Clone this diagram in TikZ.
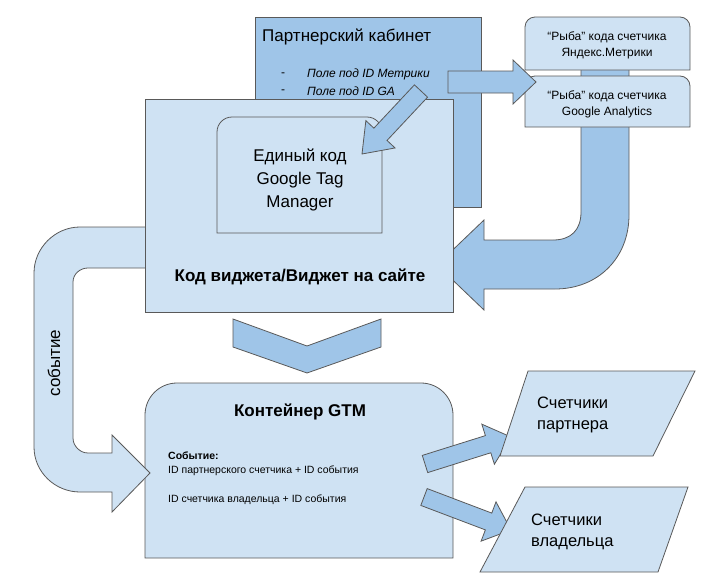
\documentclass[tikz,border=0pt]{standalone}
\usepackage{fontspec}
\setmainfont{Liberation Sans}
\usetikzlibrary{calc}

\definecolor{paleblue}{HTML}{CFE2F3}
\definecolor{midblue}{HTML}{9FC5E8}
\definecolor{outline}{HTML}{595959}

\begin{document}
\begin{tikzpicture}[x=1pt, y=-1pt,
    box/.style={draw=outline, fill=paleblue, line width=0.8pt, line join=miter},
    darkbox/.style={draw=outline, fill=midblue, line width=0.8pt, line join=miter},
    darkarrow/.style={draw=outline, fill=midblue, line width=0.8pt, line join=miter},
    palearrow/.style={draw=outline, fill=paleblue, line width=0.8pt, line join=miter},
    bigtxt/.style={font=\fontsize{17}{23}\selectfont, align=center, inner sep=0pt},
    boldtxt/.style={font=\fontsize{17}{20}\selectfont\bfseries, inner sep=0pt},
    smalltxt/.style={font=\fontsize{12}{16}\selectfont, align=center, inner sep=0pt},
    tinytxt/.style={font=\fontsize{10.5}{14}\selectfont, inner sep=0pt}]
  % \flatarrow{tail}{tip}{half body}{half head}{head length}: a straight block arrow
  \newcommand{\flatarrow}[5]{%
    \coordinate (fa-h) at ($#2!#5!#1$);
    \draw[darkarrow] ($#1!#3!90:#2$) -- ($(fa-h)!#3!90:#2$) -- ($(fa-h)!#4!90:#2$) -- #2
      -- ($(fa-h)!#4!-90:#2$) -- ($(fa-h)!#3!-90:#2$) -- ($#1!#3!-90:#2$) -- cycle;}
  \useasboundingbox (0,0) rectangle (726,584);
  % ---------------- partner cabinet ----------------
  \draw[darkbox] (255,17) rectangle (481,207);
  \node[bigtxt, anchor=west] (cabtitle) at (262,37) {Партнерский кабинет};
  \node[smalltxt, anchor=west] (dash1) at (281,75) {-};
  \node[smalltxt, anchor=west] (dash2) at (281,92) {-};
  \node[smalltxt, anchor=west, font=\fontsize{12}{16}\selectfont\itshape] (field1) at (307,74) {Поле под ID Метрики};
  \node[smalltxt, anchor=west, font=\fontsize{12}{16}\selectfont\itshape] (field2) at (307,91) {Поле под ID GA};
  % ---------------- return arrow from the counter stubs ----------------
  \draw[darkarrow] (581,40) -- (581,212) .. controls (581,230) and (571,240) .. (553,240)
    -- (484,240) -- (484,220) -- (437,265) -- (484,310) -- (484,289) -- (555,289)
    .. controls (598,289) and (629,258) .. (629,215) -- (629,40) -- cycle;
  % ---------------- counter stubs ----------------
  \draw[box] (525,70) [rounded corners=10pt] -- (525,17) -- (690,17) [sharp corners] -- (690,70) -- cycle;
  \node[smalltxt] (yastub) at (607,45) {“Рыба” кода счетчика\\Яндекс.Метрики};
  \draw[box] (525,127) [rounded corners=10pt] -- (525,76) -- (690,76) [sharp corners] -- (690,127) -- cycle;
  \node[smalltxt] (gastub) at (607,104) {“Рыба” кода счетчика\\Google Analytics};
  % ---------------- GTM container ----------------
  \draw[box] (145,558) [rounded corners=32pt] -- (145,383) -- (453,383) [sharp corners] -- (453,558) -- cycle;
  \node[boldtxt] (gtmtitle) at (300,412) {Контейнер GTM};
  \node[tinytxt, anchor=west, font=\fontsize{10.5}{14}\selectfont\bfseries] (evhead) at (168,456) {Событие:};
  \node[tinytxt, anchor=west] (evpartner) at (168,471) {ID партнерского счетчика + ID события};
  \node[tinytxt, anchor=west] (evowner) at (168,500) {ID счетчика владельца + ID события};
  % ---------------- event loop arrow ----------------
  \draw[palearrow] (145,227) -- (80,227) .. controls (55,227) and (34,248) .. (34,273)
    -- (34,447) .. controls (34,472) and (55,492) .. (80,492) -- (112,492) -- (112,512)
    -- (150,473) -- (112,435) -- (112,453) -- (88,453) .. controls (80,453) and (73,446) .. (73,438)
    -- (73,282) .. controls (73,274) and (80,268) .. (88,268) -- (145,268);
  \node[bigtxt, rotate=90] (evlabel) at (54,363) {событие};
  % ---------------- widget ----------------
  \draw[box] (145,99) rectangle (453,312);
  \draw[box] (217,233) [rounded corners=15pt] -- (217,117) -- (382,117) [sharp corners] -- (382,233) -- cycle;
  \node[bigtxt] (gtmcode) at (300,180) {Единый код\\Google Tag\\Manager};
  \node[boldtxt] (widget) at (300,277) {Код виджета/Виджет на сайте};
  % ---------------- arrows ----------------
  \flatarrow{(421,91)}{(362,154)}{9pt}{20pt}{27pt}
  \flatarrow{(448,82)}{(536,82)}{11pt}{22pt}{23pt}
  \draw[darkarrow] (233,319) -- (307,346) -- (381,319) -- (381,347) -- (307,373) -- (233,347) -- cycle;
  \flatarrow{(425,464)}{(511,437)}{9pt}{21pt}{24pt}
  \flatarrow{(424,497)}{(511,530)}{9pt}{21pt}{24pt}
  % ---------------- counters ----------------
  \draw[box] (528,371) -- (695,371) -- (653,456) -- (500,456) -- cycle;
  \node[bigtxt, anchor=west, align=left, font=\fontsize{16.5}{21}\selectfont] (partnercnt) at (537,415) {Счетчики\\партнера};
  \draw[box] (525,487) -- (688,487) -- (658,572) -- (480,572) -- cycle;
  \node[bigtxt, anchor=west, align=left, font=\fontsize{16.5}{21}\selectfont] (ownercnt) at (531,532) {Счетчики\\владельца};
\end{tikzpicture}
\end{document}
